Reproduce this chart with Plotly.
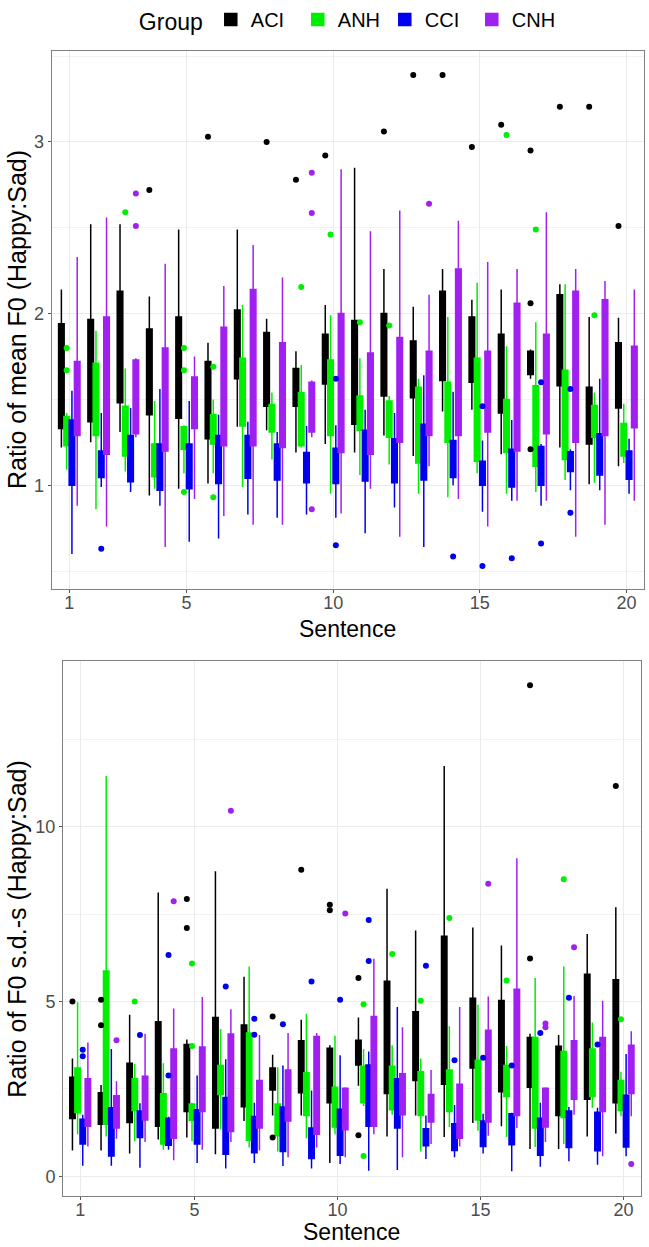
import plotly.graph_objects as go

W, H = 649, 1247
GROUPS = ["ACI", "ANH", "CCI", "CNH"]
COLORS = ["#000000", "#00EE00", "#0000EE", "#A020F0"]
OFFSETS = [-0.27, -0.09, 0.09, 0.27]
SENTENCES = list(range(1, 21))
X_TICKS = [1, 5, 10, 15, 20]

# ---- Panel 1: ratio of mean F0 (lower whisker, q1, median, q3, upper whisker) per sentence
MEAN_ACI = [(1.22, 1.33, 1.62, 1.94, 2.14), (1.25, 1.37, 1.65, 1.965, 2.52), (1.31, 1.48, 1.80, 2.13, 2.52),
            (0.94, 1.41, 1.65, 1.91, 2.10), (0.98, 1.39, 1.70, 1.98, 2.49), (1.01, 1.27, 1.50, 1.72, 1.83),
            (1.34, 1.62, 1.80, 2.02, 2.49), (1.32, 1.46, 1.68, 1.89, 1.97), (1.19, 1.46, 1.57, 1.68, 1.78),
            (1.24, 1.59, 1.74, 1.88, 2.05), (1.19, 1.355, 1.65, 1.96, 2.85), (1.29, 1.52, 1.75, 2.00, 2.26),
            (1.17, 1.51, 1.68, 1.84, 2.04), (1.43, 1.61, 1.87, 2.13, 2.26), (1.44, 1.60, 1.79, 1.98, 2.08),
            (1.18, 1.42, 1.65, 1.88, 2.14), (1.62, 1.645, 1.71, 1.78, 1.79), (1.22, 1.58, 1.85, 2.11, 2.17),
            (1.005, 1.24, 1.40, 1.57, 1.98), (1.11, 1.45, 1.64, 1.83, 1.975)]
MEAN_ANH = [(1.09, 1.23, 1.31, 1.40, 1.42), (0.86, 1.29, 1.50, 1.71, 1.90), (1.08, 1.17, 1.31, 1.46, 1.68),
            (0.98, 1.05, 1.15, 1.24, 1.49), (1.07, 1.21, 1.28, 1.34, 1.35), (1.07, 1.24, 1.32, 1.41, 1.50),
            (0.99, 1.345, 1.55, 1.74, 2.05), (1.15, 1.31, 1.39, 1.47, 1.54), (1.22, 1.23, 1.38, 1.54, 1.70),
            (0.95, 1.29, 1.50, 1.73, 1.99), (1.06, 1.32, 1.42, 1.52, 1.74), (1.12, 1.28, 1.38, 1.49, 1.52),
            (0.95, 1.13, 1.35, 1.57, 1.62), (0.93, 1.25, 1.42, 1.60, 1.98), (1.07, 1.14, 1.44, 1.74, 2.18),
            (0.95, 1.19, 1.35, 1.50, 1.81), (0.96, 1.11, 1.35, 1.58, 1.95), (1.03, 1.15, 1.41, 1.67, 2.17),
            (1.015, 1.28, 1.37, 1.465, 1.54), (1.13, 1.17, 1.27, 1.36, 1.475)]
MEAN_CCI = [(0.60, 1.00, 1.19, 1.38, 1.55), (0.99, 1.045, 1.12, 1.20, 1.42), (0.96, 1.02, 1.15, 1.29, 1.45),
            (0.88, 0.97, 1.10, 1.24, 1.56), (0.67, 0.98, 1.11, 1.24, 1.49), (0.69, 1.01, 1.15, 1.29, 1.41),
            (0.83, 1.04, 1.16, 1.29, 1.37), (0.81, 1.03, 1.13, 1.24, 1.31), (0.83, 1.015, 1.10, 1.19, 1.345),
            (0.81, 1.01, 1.11, 1.215, 1.35), (0.72, 1.025, 1.17, 1.32, 1.44), (0.87, 1.015, 1.14, 1.27, 1.42),
            (0.64, 1.03, 1.19, 1.355, 1.64), (1.00, 1.045, 1.15, 1.26, 1.545), (0.845, 1.00, 1.07, 1.14, 1.26),
            (0.91, 0.99, 1.10, 1.21, 1.38), (0.88, 1.00, 1.11, 1.225, 1.24), (0.97, 1.08, 1.14, 1.195, 1.21),
            (0.97, 1.06, 1.18, 1.30, 1.62), (0.95, 1.035, 1.12, 1.20, 1.27)]
MEAN_CNH = [(0.88, 1.29, 1.50, 1.72, 2.33), (0.76, 1.18, 1.58, 1.98, 2.56), (1.28, 1.30, 1.52, 1.73, 1.74),
            (0.64, 1.20, 1.50, 1.80, 2.29), (0.92, 1.33, 1.48, 1.63, 1.75), (0.82, 1.23, 1.58, 1.92, 2.16),
            (0.77, 1.23, 1.68, 2.14, 2.40), (0.77, 1.22, 1.52, 1.83, 2.21), (1.28, 1.31, 1.45, 1.60, 1.61),
            (0.835, 1.19, 1.60, 2.00, 2.84), (0.98, 1.18, 1.47, 1.77, 2.48), (0.70, 1.25, 1.55, 1.86, 2.60),
            (1.11, 1.29, 1.53, 1.78, 2.11), (0.92, 1.29, 1.77, 2.26, 2.54), (0.76, 1.31, 1.54, 1.78, 2.30),
            (0.91, 1.20, 1.63, 2.06, 2.26), (0.91, 1.30, 1.59, 1.88, 2.59), (0.70, 1.25, 1.69, 2.13, 2.26),
            (0.77, 1.29, 1.68, 2.08, 2.19), (0.91, 1.335, 1.57, 1.81, 2.14)]
# outliers: (sentence, value)
MEAN_ACI_OUT = [(4, 2.72), (6, 3.03), (8, 3.00), (9, 2.78), (10, 2.92), (12, 3.06), (13, 3.39), (14, 3.39),
                (15, 2.97), (16, 3.10), (17, 2.95), (17, 2.06), (17, 1.21), (18, 3.205), (19, 3.205), (20, 2.51)]
MEAN_ANH_OUT = [(1, 1.80), (1, 1.67), (3, 2.59), (5, 1.80), (5, 1.67), (5, 0.96), (6, 1.69), (6, 0.93),
                (9, 2.155), (10, 2.46), (11, 1.95), (12, 1.93), (16, 3.04), (17, 2.49), (19, 1.99)]
MEAN_CCI_OUT = [(2, 0.63), (10, 1.62), (10, 0.65), (14, 0.585), (15, 1.46), (15, 0.53), (16, 0.575),
                (17, 1.60), (17, 0.66), (18, 1.56), (18, 0.84)]
MEAN_CNH_OUT = [(3, 2.70), (3, 2.51), (9, 2.82), (9, 2.585), (9, 0.86), (13, 2.64)]

# ---- Panel 2: ratio of F0 s.d.-s
SD_ACI = [(0.74, 1.65, 2.2, 2.83, 3.37), (0.74, 1.49, 1.9, 2.39, 2.61), (0.65, 1.54, 2.4, 3.23, 4.62),
          (1.05, 1.43, 2.9, 4.42, 8.12), (1.11, 1.85, 2.8, 3.77, 3.91), (0.63, 1.38, 3.0, 4.54, 8.73),
          (1.58, 1.99, 3.1, 4.33, 5.71), (1.74, 2.47, 2.8, 3.10, 3.48), (1.74, 2.39, 3.1, 3.88, 4.48),
          (0.38, 2.10, 2.9, 3.66, 3.75), (2.59, 3.18, 3.5, 3.89, 4.54), (1.14, 2.37, 4.0, 5.58, 8.23),
          (1.74, 2.74, 3.7, 4.71, 7.03), (1.12, 2.63, 4.7, 6.87, 11.74), (1.52, 3.10, 4.1, 5.09, 7.12),
          (1.43, 2.42, 3.7, 5.03, 6.60), (0.78, 2.55, 3.3, 3.97, 4.08), (0.78, 1.74, 2.7, 3.72, 4.04),
          (1.14, 2.20, 4.0, 5.78, 6.93), (1.22, 2.10, 3.9, 5.62, 7.70)]
SD_ANH = [(1.20, 1.82, 2.4, 3.10, 4.98), (1.14, 1.49, 3.7, 5.87, 11.45), (1.00, 1.88, 2.3, 2.79, 3.21),
          (0.76, 0.92, 1.6, 2.36, 3.23), (1.00, 1.60, 1.8, 2.07, 2.10), (1.34, 2.34, 2.7, 3.17, 4.21),
          (0.82, 1.03, 2.6, 4.10, 6.00), (0.71, 1.16, 1.6, 2.07, 3.12), (1.09, 1.74, 2.3, 2.96, 4.65),
          (1.20, 1.41, 2.0, 2.55, 4.02), (2.01, 2.10, 2.6, 3.15, 3.64), (1.76, 1.90, 2.5, 3.15, 3.75),
          (0.71, 1.74, 2.4, 2.99, 3.37), (1.41, 1.85, 2.4, 3.04, 4.29), (1.30, 1.61, 2.5, 3.32, 4.91),
          (1.12, 2.28, 2.7, 3.17, 3.73), (0.84, 1.38, 2.7, 3.97, 5.67), (0.92, 1.68, 2.6, 3.57, 6.00),
          (1.96, 2.28, 3.0, 3.64, 4.40), (1.72, 1.88, 2.3, 2.74, 2.99)]
SD_CCI = [(0.30, 0.92, 1.3, 1.63, 1.76), (0.30, 0.58, 1.3, 1.96, 3.64), (0.24, 1.11, 1.5, 1.87, 2.09),
          (0.76, 0.89, 1.3, 1.66, 1.70), (0.38, 0.92, 1.4, 1.90, 2.88), (0.22, 0.63, 1.4, 2.25, 3.35),
          (0.38, 0.67, 1.2, 1.71, 2.10), (0.29, 0.71, 1.3, 1.98, 3.17), (0.22, 0.51, 0.9, 1.38, 2.45),
          (0.35, 0.60, 1.3, 1.92, 3.46), (0.16, 1.43, 2.3, 3.18, 3.57), (0.18, 1.38, 2.1, 2.79, 4.84),
          (0.49, 0.87, 1.1, 1.36, 1.74), (0.54, 0.74, 1.1, 1.50, 2.04), (0.65, 0.85, 1.2, 1.58, 1.79),
          (0.14, 0.90, 1.3, 1.79, 1.82), (0.27, 0.60, 1.1, 1.66, 2.10), (0.43, 0.82, 1.3, 1.87, 1.98),
          (0.33, 0.73, 1.3, 1.83, 1.96), (0.57, 0.84, 1.6, 2.32, 3.50)]
SD_CNH = [(0.85, 1.43, 2.1, 2.79, 3.83), (1.07, 1.38, 1.8, 2.30, 2.72), (0.98, 1.61, 2.2, 2.86, 4.08),
          (0.46, 1.09, 2.4, 3.64, 4.80), (0.76, 1.85, 2.8, 3.70, 5.13), (0.98, 1.28, 2.7, 4.07, 4.78),
          (0.74, 1.38, 2.1, 2.74, 4.04), (0.54, 1.58, 2.3, 3.04, 4.10), (0.82, 1.20, 2.6, 4.00, 4.10),
          (0.54, 1.33, 1.9, 2.52, 2.55), (1.20, 1.43, 3.0, 4.57, 6.22), (0.54, 1.76, 2.3, 2.93, 4.26),
          (0.92, 1.55, 1.9, 2.34, 3.04), (0.85, 1.09, 1.9, 2.63, 4.84), (1.16, 1.55, 2.9, 4.18, 5.14),
          (1.38, 1.74, 3.5, 5.35, 9.10), (0.98, 1.41, 2.0, 2.52, 2.55), (1.76, 2.20, 3.0, 3.88, 5.16),
          (0.57, 1.85, 2.9, 3.97, 5.02), (1.72, 2.37, 3.1, 3.75, 4.15)]
SD_ACI_OUT = [(1, 5.0), (2, 5.05), (2, 4.32), (5, 7.93), (5, 7.10), (8, 4.57), (8, 1.11), (9, 8.77), (10, 7.77),
              (10, 7.61), (11, 5.67), (11, 1.17), (17, 14.05), (17, 6.23), (20, 11.17)]
SD_ANH_OUT = [(3, 5.0), (5, 6.09), (5, 3.73), (11, 4.92), (11, 0.58), (12, 6.36), (13, 5.02), (14, 7.39),
              (16, 5.60), (18, 8.50), (20, 4.49)]
SD_CCI_OUT = [(1, 3.62), (1, 3.43), (3, 4.04), (4, 6.33), (4, 2.88), (6, 5.43), (7, 4.51), (7, 4.05), (8, 4.35),
              (9, 5.57), (10, 5.05), (11, 7.33), (11, 6.16), (13, 6.02), (14, 3.32), (15, 3.39), (16, 3.17),
              (17, 4.10), (18, 5.11), (19, 3.77)]
SD_CNH_OUT = [(2, 3.89), (4, 7.87), (6, 10.46), (10, 7.52), (15, 8.37), (17, 4.37), (17, 4.26), (18, 6.55),
              (20, 0.35)]

PANELS = [
    dict(stats=[MEAN_ACI, MEAN_ANH, MEAN_CCI, MEAN_CNH],
         outs=[MEAN_ACI_OUT, MEAN_ANH_OUT, MEAN_CCI_OUT, MEAN_CNH_OUT],
         xa="x", ya="y", ytitle="Ratio of mean F0 (Happy:Sad)", xtitle_gap=40),
    dict(stats=[SD_ACI, SD_ANH, SD_CCI, SD_CNH],
         outs=[SD_ACI_OUT, SD_ANH_OUT, SD_CCI_OUT, SD_CNH_OUT],
         xa="x2", ya="y2", ytitle="Ratio of F0 s.d.-s (Happy:Sad)", xtitle_gap=36),
]

# pixel layout of panels (left, right, top, bottom)
P1 = (51.7, 644.0, 46.7, 587.3)
P2 = (63.0, 640.7, 659.6, 1196.0)

fig = go.Figure()
for pi, panel in enumerate(PANELS):
    for gi, g in enumerate(GROUPS):
        st = panel["stats"][gi]
        c = COLORS[gi]
        fig.add_trace(go.Box(
            x=[s + OFFSETS[gi] for s in SENTENCES],
            lowerfence=[v[0] for v in st], q1=[v[1] for v in st], median=[v[2] for v in st],
            q3=[v[3] for v in st], upperfence=[v[4] for v in st],
            width=0.19, whiskerwidth=0, boxpoints=False,
            fillcolor=c, line=dict(color=c, width=1.5),
            name=g, legendgroup=g, showlegend=(pi == 0),
            xaxis=panel["xa"], yaxis=panel["ya"], hoverinfo="skip"))
        out = panel["outs"][gi]
        fig.add_trace(go.Scatter(
            x=[s + OFFSETS[gi] for s, _ in out], y=[v for _, v in out],
            mode="markers", marker=dict(color=c, size=6),
            showlegend=False, legendgroup=g,
            xaxis=panel["xa"], yaxis=panel["ya"], hoverinfo="skip"))

FONT = "Liberation Sans, Arial, Helvetica, sans-serif"
TICKFONT = dict(family=FONT, size=18, color="#4D4D4D")
common_x = dict(range=[0.4, 20.6], tickmode="array", tickvals=X_TICKS, ticktext=[str(t) for t in X_TICKS],
                showgrid=True, gridcolor="#EBEBEB", gridwidth=1, zeroline=False,
                showline=True, mirror=True, linecolor="#808080", linewidth=1,
                ticks="outside", ticklen=3, tickcolor="#555555", tickfont=TICKFONT,
                ticklabelstandoff=-6)
common_y = dict(showgrid=True, gridcolor="#EBEBEB", gridwidth=1, zeroline=False,
                showline=True, mirror=True, linecolor="#808080", linewidth=1,
                ticks="outside", ticklen=3, tickcolor="#555555", tickfont=TICKFONT)


def dom_x(p):
    return [p[0] / W, p[1] / W]


def dom_y(p):
    return [1 - p[3] / H, 1 - p[2] / H]


fig.update_layout(
    width=W, height=H, autosize=False,
    margin=dict(l=0, r=0, t=0, b=0),
    paper_bgcolor="white", plot_bgcolor="white",
    boxmode="overlay",
    font=dict(family=FONT, color="#000000"),
    xaxis=dict(domain=dom_x(P1), anchor="y", **common_x),
    yaxis=dict(domain=dom_y(P1), anchor="x", range=[0.393, 3.532], tick0=1, dtick=1,
               minor=dict(dtick=0.5, tick0=0.5, showgrid=True, gridcolor="#F2F2F2", gridwidth=1), **common_y),
    xaxis2=dict(domain=dom_x(P2), anchor="y2", **common_x),
    yaxis2=dict(domain=dom_y(P2), anchor="x2", range=[-0.57, 14.73], tick0=0, dtick=5,
                minor=dict(dtick=2.5, tick0=0, showgrid=True, gridcolor="#F2F2F2", gridwidth=1), **common_y),
    legend=dict(orientation="h", x=(P1[0] + P1[1]) / 2 / W, xanchor="center", y=1 - 16 / H, yanchor="middle",
                title=dict(text="Group", font=dict(size=23, family=FONT, color="#000000")),
                font=dict(size=20, family=FONT, color="#000000"), itemwidth=30,
                entrywidth=42, entrywidthmode="pixels", bgcolor="rgba(0,0,0,0)"),
)

annotations = []
for p, panel in zip([P1, P2], PANELS):
    annotations.append(dict(text="Sentence", x=(p[0] + p[1]) / 2 / W, y=1 - (p[3] + panel["xtitle_gap"]) / H,
                            xref="paper", yref="paper", showarrow=False, xanchor="center", yanchor="middle",
                            font=dict(size=23, family=FONT, color="#000000")))
    annotations.append(dict(text=panel["ytitle"], x=17 / W, y=1 - (p[2] + p[3]) / 2 / H,
                            xref="paper", yref="paper", showarrow=False, textangle=-90,
                            xanchor="center", yanchor="middle",
                            font=dict(size=25, family=FONT, color="#000000")))
fig.update_layout(annotations=annotations)

fig.write_html("out.html", config={"displayModeBar": False, "staticPlot": True})
with open("out.html", "r", encoding="utf-8") as fh:
    html = fh.read()
html = html.replace("<head>", "<head><style>html,body{margin:0;padding:0;overflow:hidden;}</style>", 1)
with open("out.html", "w", encoding="utf-8") as fh:
    fh.write(html)
